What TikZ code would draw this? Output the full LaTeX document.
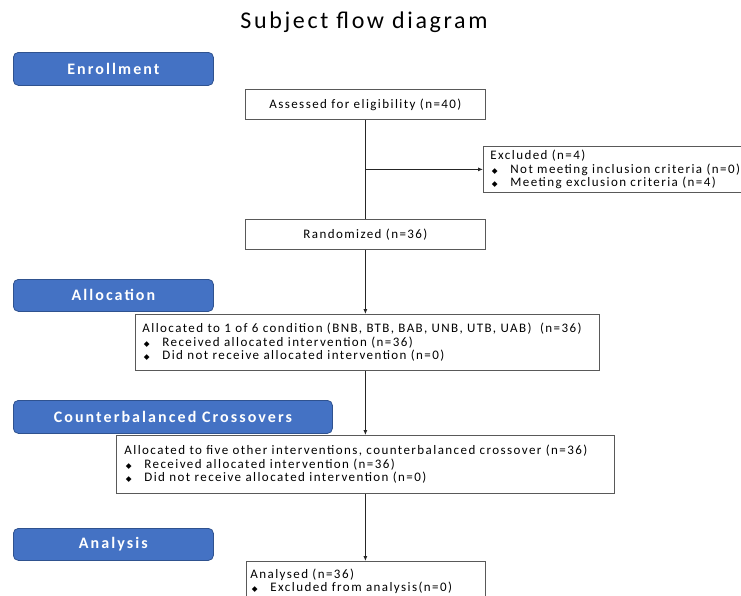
\documentclass[tikz,border=0pt]{standalone}
\usepackage{fontspec}
\setmainfont{Carlito}
\newfontfamily\bodyfont[LetterSpace=11]{Carlito}
\newfontfamily\titlefont[LetterSpace=11]{Carlito}
\newfontfamily\hdrfont[LetterSpace=13]{Carlito}
\newfontfamily\symfont{DejaVu Sans}
\usetikzlibrary{arrows.meta,calc}
\definecolor{hdrblue}{HTML}{4472C4}
\definecolor{hdredge}{HTML}{2F528F}
\newcommand{\bul}{{\symfont\fontsize{7.5}{7.5}\selectfont ◆}}
\newcommand{\bitem}[1]{\makebox[20pt][l]{\hspace{1.5pt}\bul}#1}
\tikzset{
  hdr/.style={draw=hdredge, line width=0.8pt, fill=hdrblue, rounded corners=5pt, text=white,
    font=\hdrfont\fontsize{16}{18}\selectfont\bfseries, anchor=north west, inner sep=0pt},
  plainbox/.style={draw=black!65, line width=0.8pt, fill=white, anchor=north west, inner sep=0pt,
    font=\bodyfont\fontsize{13}{13.5}\selectfont},
  conn/.style={draw=black!85, line width=0.8pt},
  arr/.style={conn, -{Latex[length=5pt,width=4pt]}},
}
\begin{document}
\begin{tikzpicture}[x=1pt,y=-1pt]
\useasboundingbox (0,0) rectangle (741,595);
\clip (0,0) rectangle (741,595);
\node[font=\titlefont\fontsize{24}{26}\selectfont] (title) at (364,22) {Subject flow diagram};
% phase headers
\node[hdr, minimum width=200pt, minimum height=33pt] (enr) at (13,52) {Enrollment};
\node[hdr, minimum width=200pt, minimum height=32pt] (alc) at (13,279) {Allocation};
\node[hdr, minimum width=319pt, minimum height=33pt] (cro) at (13,400) {Counterbalanced Crossovers};
\node[hdr, minimum width=200pt, minimum height=32pt] (ana) at (13,528) {Analysis};
% boxes
\node[plainbox, minimum width=240pt, minimum height=30pt] (assess) at (245,89) {Assessed for eligibility (n=40)};
\node[plainbox, minimum width=262pt, minimum height=46pt, text width=248pt, align=left, inner xsep=7pt] (excl) at (483,146)
  {Excluded (n=4)\\ \bitem{Not meeting inclusion criteria (n=0)}\\ \bitem{Meeting exclusion criteria (n=4)}};
\node[plainbox, minimum width=240pt, minimum height=30pt] (rand) at (245,219) {Randomized (n=36)};
\node[plainbox, minimum width=464pt, minimum height=56pt, text width=450pt, align=left, inner xsep=7pt] (allocbox) at (135,314)
  {Allocated to 1 of 6 condition (BNB, BTB, BAB, UNB, UTB, UAB)\ \ (n=36)\\ \bitem{Received allocated intervention (n=36)}\\ \bitem{Did not receive allocated intervention (n=0)}};
\node[plainbox, minimum width=498pt, minimum height=58pt, text width=482pt, align=left, inner xsep=8pt] (five) at (116,435)
  {Allocated to five other interventions, counterbalanced crossover (n=36)\\ \bitem{Received allocated intervention (n=36)}\\ \bitem{Did not receive allocated intervention (n=0)}};
\node[plainbox, minimum width=239pt, minimum height=40pt, text width=231pt, align=left, inner xsep=4pt, inner ysep=3pt] (analysed) at (246,561)
  {Analysed (n=36)\\ \bitem{Excluded from analysis(n=0)}};
% connectors
\coordinate (split) at (assess.south |- excl.west);
\draw[conn] (assess.south) -- (assess.south |- rand.north);
\draw[arr] (split) -- (excl.west);
\draw[arr] (rand.south) -- (rand.south |- allocbox.north);
\draw[arr] (rand.south |- allocbox.south) -- (rand.south |- five.north);
\draw[arr] (rand.south |- five.south) -- (rand.south |- analysed.north);
\end{tikzpicture}
\end{document}
